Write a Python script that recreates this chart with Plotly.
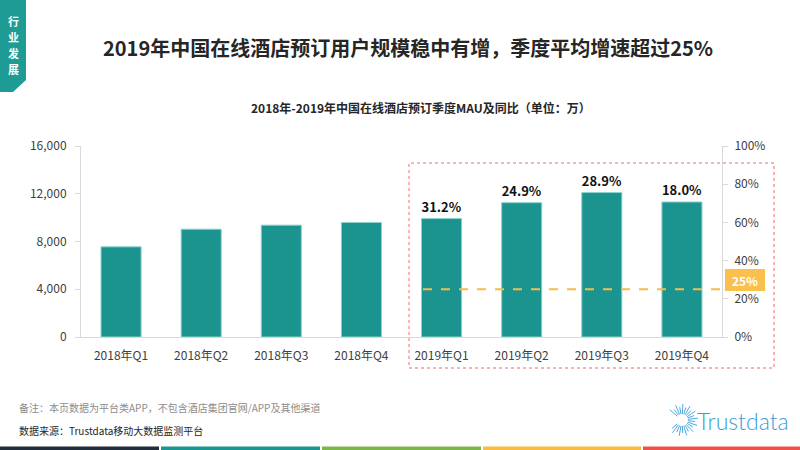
import math
import plotly.graph_objects as go

categories = ["2018年Q1", "2018年Q2", "2018年Q3", "2018年Q4",
              "2019年Q1", "2019年Q2", "2019年Q3", "2019年Q4"]
mau = [7550, 9030, 9370, 9590, 9920, 11250, 12100, 11310]
yoy = [None, None, None, None, 31.2, 24.9, 28.9, 18.0]
avg_growth = 0.25

W, H = 800, 450
ML, MR, MT, MB = 81, 78, 146, 113
PW, PH = W - ML - MR, H - MT - MB

def px(x):
    return (x - ML) / PW

def py(y):
    return (H - MB - y) / PH

FONT = "Noto Sans CJK SC"
TEAL = "#1b9490"

labels = [f"{v:.1f}%" if v is not None else "" for v in yoy]

fig = go.Figure()
fig.add_trace(go.Bar(
    x=categories, y=mau, marker=dict(color=TEAL, line=dict(color="#8ed0ca", width=1)),
    text=labels, textposition="outside", cliponaxis=False,
    textfont=dict(family=FONT, size=13, color="#111111", weight="bold"),
    hoverinfo="skip", showlegend=False,
))
# invisible trace to activate the secondary axis
fig.add_trace(go.Scatter(x=[categories[0]], y=[0], yaxis="y2", mode="markers",
                         marker=dict(opacity=0), showlegend=False, hoverinfo="skip"))

shapes = []
annotations = []

def note(x, y, text, size, color, family=FONT, xanchor="center", weight=None):
    f = dict(family=family, size=size, color=color)
    if weight:
        f["weight"] = weight
    annotations.append(dict(x=px(x), y=py(y), xref="paper", yref="paper",
                            xanchor=xanchor, yanchor="middle", text=text,
                            showarrow=False, borderpad=0, font=f))

# dashed average line
shapes.append(dict(type="line", xref="paper", yref="y2", x0=px(423), x1=px(726),
                   y0=avg_growth, y1=avg_growth,
                   line=dict(color="#f9bc41", width=2, dash="dash")))
# label box for 25%
shapes.append(dict(type="rect", xref="paper", yref="paper", x0=px(725), x1=px(765),
                   y0=py(291), y1=py(269), fillcolor="#f9c04d", line=dict(width=0)))
note(745, 280.5, f"<b>{avg_growth:.0%}</b>", 12, "white")
# red dotted box
shapes.append(dict(type="rect", xref="paper", yref="paper", x0=px(409), x1=px(774),
                   y0=py(368), y1=py(163), line=dict(color="#f26b6b", width=1, dash="dot")))

# left tab
shapes.append(dict(type="path", xref="paper", yref="paper",
                   path=f"M {px(0)},{py(0)} L {px(26)},{py(0)} L {px(26)},{py(80)} "
                        f"L {px(13)},{py(92)} L {px(0)},{py(92)} Z",
                   fillcolor="#1f9b95", line=dict(width=0)))
for i, ch in enumerate("行业发展"):
    note(13, 21 + i * 16, f"<b>{ch}</b>", 11, "white")

# titles
note(408, 47, "<b>2019年中国在线酒店预订用户规模稳中有增，季度平均增速超过25%</b>", 20, "#262626")
note(421, 107, "<b>2018年-2019年中国在线酒店预订季度MAU及同比（单位：万）</b>", 12, "#262626")

# footnotes
note(18, 407, "备注：本页数据为平台类APP，不包含酒店集团官网/APP及其他渠道", 10, "#8c8c8c",
     xanchor="left")
note(18, 430, "数据来源：Trustdata移动大数据监测平台", 10, "#262626", xanchor="left")

# logo
note(696, 421, "Trustdata", 23, "#3d9bd6", family="Lato", xanchor="left", weight=300)
cx, cy = 682, 420
for k in range(22):
    ang = math.radians(40 + k * (280 / 21))
    r0, r1 = 6, 13 + (3 if k % 2 == 0 else 0)
    shapes.append(dict(type="line", xref="paper", yref="paper",
                       x0=px(cx - r0 * math.cos(ang)), y0=py(cy - r0 * math.sin(ang)),
                       x1=px(cx - r1 * math.cos(ang)), y1=py(cy - r1 * math.sin(ang)),
                       line=dict(color="#4aa8de", width=1)))

# bottom colour strip
strip = [("#1f2d3d", 0, 159), ("#1a9590", 161, 320), ("#7ab648", 322, 481),
         ("#f9bc41", 483, 641), ("#f0504a", 643, 800)]
for col, a, b in strip:
    shapes.append(dict(type="rect", xref="paper", yref="paper", x0=px(a), x1=px(b),
                       y0=py(450), y1=py(446.5), fillcolor=col, line=dict(width=0)))

fig.update_layout(
    width=W, height=H, margin=dict(l=ML, r=MR, t=MT, b=MB),
    paper_bgcolor="white", plot_bgcolor="white",
    bargap=0.5, showlegend=False,
    font=dict(family=FONT, size=12, color="#404040"),
    xaxis=dict(showline=True, linecolor="#d9d9d9", ticks="", showgrid=False,
               ticklabelstandoff=8, tickfont=dict(size=12, color="#404040")),
    yaxis=dict(range=[0, 16000], dtick=4000, tickformat=",", showgrid=False,
               showline=True, linecolor="#d9d9d9", ticks="outside", ticklen=5,
               ticklabelstandoff=6,
               tickcolor="#d9d9d9", zeroline=False, tickfont=dict(size=12, color="#404040")),
    yaxis2=dict(range=[0, 1], dtick=0.2, tickformat=".0%", overlaying="y", side="right",
                showgrid=False, showline=True, linecolor="#d9d9d9", ticks="outside",
                ticklen=5, tickcolor="#d9d9d9", zeroline=False, ticklabelstandoff=4,
                tickfont=dict(size=12, color="#404040")),
    shapes=shapes, annotations=annotations,
)

fig.write_html("out.html", config={"displayModeBar": False},
               post_script="document.body.style.margin='0';")
